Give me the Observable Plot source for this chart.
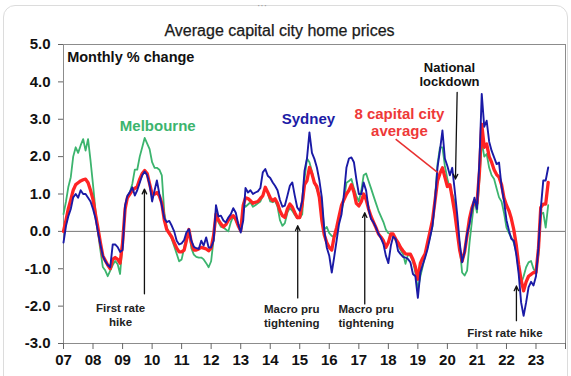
<!DOCTYPE html>
<html>
<head>
<meta charset="utf-8">
<script src="https://cdn.jsdelivr.net/npm/d3@7"></script>
<script src="https://cdn.jsdelivr.net/npm/@observablehq/plot@0.6"></script>
<style>
  html, body { margin: 0; padding: 0; background: #fff; }
  #wrap { position: relative; width: 571px; height: 376px; overflow: hidden; font-family: Arial, "Liberation Sans", sans-serif; }
  #card { position: absolute; left: 3px; top: 5px; width: 565px; height: 420px; border: 1px solid #dcdcdc; border-radius: 12px; box-sizing: border-box; }
  #dots { position: absolute; left: 257px; top: 0px; font-size: 10px; color: #999; letter-spacing: 0px; }
  #chart { position: absolute; left: 0; top: 0; }
</style>
</head>
<body>
<div id="wrap">
  <div id="card"></div>
  <div id="dots">···</div>
  <div id="chart"></div>
</div>
<script>
// ---- Data (monthly % change, Jan 2007 onward) ----
const startYear = 2007;

const melbourne = [
  0.46, 0.8, 1.18, 1.45, 2.0, 2.25, 2.1, 2.3, 2.47, 2.16, 2.47, 1.9,
  1.25, 0.55, 0.0, -0.5, -0.95, -1.05, -1.2, -1.05, -0.9, -0.79, -0.88, -1.14,
  -0.3, 0.64, 0.9, 1.05, 1.27, 1.65, 1.65, 2.0, 2.25, 2.5, 2.35, 2.2,
  1.85, 1.7, 1.7, 1.65, 1.5, 0.5, 0.1, -0.05, -0.2, -0.4, -0.6, -0.8,
  -0.75, -0.45, -0.1, 0.05, -0.45, -0.62, -0.68, -0.7, -0.7, -0.75, -0.85, -0.96,
  -0.8, -0.2, 0.42, 0.24, 0.12, 0.11, 0.05, 0.0, 0.25, 0.4, 0.3, 0.15,
  0.02, 0.75, 0.66, 0.72, 0.78, 0.66, 0.7, 0.75, 0.8, 0.95, 1.18, 1.02,
  0.8, 0.78, 0.82, 0.66, 0.3, 0.15, 0.22, 0.5, 0.63, 0.55, 0.44, 0.35,
  0.36, 0.46, 1.4, 1.95, 1.85, 1.6, 1.3, 1.12, 0.95, 0.75, 0.05, 0.12,
  -0.05, -0.12, -0.15, -0.07, 0.35, 0.55, 0.85, 1.3, 1.35, 1.4, 1.15, 0.95,
  0.8, 1.1, 1.5, 1.55, 1.35, 1.15, 0.95, 0.75, 0.55, 0.4, 0.25, 0.05,
  -0.05, -0.07, -0.1, -0.25, -0.35, -0.5, -0.6, -0.87, -0.62, -0.65, -0.8, -1.1,
  -1.55, -1.2, -0.95, -0.65, -0.4, -0.15, 0.15, 0.9, 1.8, 2.25, 2.25, 1.75,
  1.4, 1.15, 1.0, 0.8, 0.3, -0.4, -1.1, -1.18, -1.05, -0.3, 0.3, 0.85,
  0.5, 1.4, 2.4, 2.0, 2.07, 1.7, 1.5, 1.4, 1.15, 0.91, 0.8, 0.5,
  0.1, -0.05, -0.15, -0.3, -0.55, -0.95, -1.4, -1.2, -0.96, -0.83, -0.79, -1.0,
  -1.1, -0.6, 0.46, 0.5, 0.1, 0.7
];

const sydney = [
  -0.3, 0.15, 0.4, 0.6, 0.91, 1.0, 0.9, 1.1, 1.0, 1.0, 0.9, 0.8,
  0.6, 0.35, 0.0, -0.35, -0.65, -0.8, -0.9, -0.96, -0.35, -0.35, -0.42, -0.55,
  -0.5, 0.7, 0.95, 1.05, 1.18, 0.96, 1.1, 1.3, 1.5, 1.6, 1.5, 1.25,
  0.8, 1.1, 1.36, 1.0, 0.7, 0.35, 0.25, 0.28, 0.15, 0.0, -0.25, -0.35,
  -0.32, -0.23, -0.03, 0.06, -0.25, -0.41, -0.45, -0.47, -0.25, -0.38, -0.16, -0.43,
  -0.43, -0.25, 0.7, 0.4, 0.42, 0.29, 0.24, 0.37, 0.46, 0.62, 0.5, 0.2,
  -0.03, 0.29, 1.16, 1.04, 1.1, 1.0, 1.04, 1.07, 1.16, 1.58, 1.67, 1.49,
  1.43, 1.31, 1.22, 1.1, 0.84, 0.66, 0.69, 0.95, 1.22, 1.31, 0.95, 0.64,
  0.55, 0.82, 1.62, 1.96, 2.65, 2.1, 1.94, 1.71, 1.36, 0.91, 0.02, -0.43,
  -0.65, -1.1, -0.7, -0.25, 0.2, 0.46, 1.0, 1.71, 1.95, 1.98, 1.85, 1.4,
  1.0, 1.0, 1.31, 1.09, 0.6, 0.33, 0.24, 0.1, -0.07, -0.18, -0.34, -0.65,
  -0.85, -0.38, -0.14, -0.2, -0.52, -0.61, -0.68, -0.7, -0.74, -0.83, -1.14, -1.2,
  -1.78, -1.1, -0.9, -0.7, -0.47, -0.16, 0.15, 0.82, 1.71, 2.16, 2.7, 1.95,
  1.75, 1.5, 1.7, 1.1, 0.46, -0.3, -0.83, -0.55, -0.07, 0.2, 0.6, 0.9,
  0.6, 1.9, 3.68, 2.8, 2.96, 2.4, 2.16, 1.98, 1.8, 1.84, 1.2, 0.82,
  0.3, 0.02, -0.2, -0.25, -0.6, -1.14, -1.9, -2.26, -1.9, -1.5, -1.35, -1.45,
  -1.2, -0.4, 0.6, 1.36, 1.36, 1.71
];

const capitalAvg = [
  0.0, 0.3, 0.6, 0.85, 1.1, 1.25, 1.3, 1.35, 1.38, 1.4, 1.3, 1.1,
  0.85, 0.45, 0.1, -0.3, -0.65, -0.78, -0.9, -1.0, -0.75, -0.7, -0.75, -0.85,
  -0.3, 0.6, 0.9, 1.0, 1.1, 1.15, 1.2, 1.4, 1.55, 1.63, 1.55, 1.27,
  1.0, 1.0, 1.04, 0.95, 0.75, 0.3, 0.05, -0.05, -0.15, -0.3, -0.45, -0.55,
  -0.55, -0.5, -0.25, 0.05, -0.3, -0.5, -0.5, -0.47, -0.43, -0.45, -0.47, -0.52,
  -0.45, -0.1, 0.46, 0.3, 0.2, 0.12, 0.18, 0.3, 0.38, 0.42, 0.32, 0.15,
  0.02, 0.7, 0.9, 0.88, 0.82, 0.75, 0.78, 0.8, 0.88, 0.95, 1.18, 1.05,
  0.9, 0.82, 0.87, 0.75, 0.55, 0.42, 0.37, 0.6, 0.73, 0.65, 0.5, 0.37,
  0.37, 0.75, 1.25, 1.36, 1.71, 1.54, 1.3, 1.2, 0.9, 0.3, -0.1, -0.3,
  -0.43, -0.5, -0.15, 0.1, 0.4, 0.7, 0.85, 1.0, 1.1, 1.25, 1.05, 0.75,
  0.68, 0.8, 1.0, 0.85, 0.6, 0.4, 0.25, 0.1, -0.07, -0.15, -0.25, -0.43,
  -0.3, -0.07, -0.07, -0.2, -0.3, -0.43, -0.52, -0.6, -0.61, -0.61, -0.75, -0.95,
  -1.28, -0.85, -0.72, -0.6, -0.3, 0.0, 0.3, 0.82, 1.35, 1.55, 1.7, 1.45,
  1.2, 1.25, 0.9, 0.5, 0.0, -0.5, -0.8, -0.55, -0.1, 0.35, 0.64, 0.82,
  0.75, 1.6, 2.87, 2.25, 2.34, 2.0, 1.85, 1.65, 1.52, 1.45, 1.25, 0.9,
  0.7, 0.55, 0.35, 0.05, -0.35, -0.9, -1.3, -1.59, -1.35, -1.2, -1.15, -1.1,
  -1.1, -0.45, 0.64, 0.73, 0.73, 1.31
];

const yearLabels = ["07","08","09","10","11","12","13","14","15","16","17","18","19","20","21","22","23"];
const yTicks = [-3, -2, -1, 0, 1, 2, 3, 4, 5];

const titleText = "Average capital city home prices";
const unitsText = "Monthly % change";

// Annotation labels
const seriesLabels = [
  {date: "2010-03-12", value: 2.83, text: "Melbourne", color: "#3cb46e"},
  {date: "2015-04-18", value: 3.01, text: "Sydney", color: "#1c1ca6"},
  {date: "2018-05-18", value: 2.92, text: "8 capital city\naverage", color: "#ee3838"}
];
const eventLabels = [
  {date: "2008-12-07", value: -2.22, text: "First rate\nhike", anchor: "start"},
  {date: "2014-09-25", value: -2.26, text: "Macro pru\ntightening", anchor: "middle"},
  {date: "2017-04-03", value: -2.26, text: "Macro pru\ntightening", anchor: "middle"},
  {date: "2021-12-12", value: -2.70, text: "First rate hike", anchor: "middle"}
];
const eventArrows = [
  {d1: "2009-09-28", v1: -1.67, d2: "2009-09-28", v2: 1.13},
  {d1: "2014-12-07", v1: -1.78, d2: "2014-12-07", v2: 0.15},
  {d1: "2017-03-15", v1: -1.94, d2: "2017-03-15", v2: 0.50},
  {d1: "2020-05-01", v1: 3.72, d2: "2020-04-10", v2: 1.40},
  {d1: "2022-05-04", v1: -2.39, d2: "2022-05-04", v2: -1.46}
];
const lockdownLabel = [{date: "2020-01-27", value: 4.2, text: "National\nlockdown"}];
const avgPointer = [{d1: "2018-04-01", v1: 2.47, d2: "2019-09-01", v2: 1.58}];

// ---- Build tables ----
const monthDate = i => new Date(Date.UTC(startYear, i, 1));
const rows = [];
const addSeries = (name, arr) => arr.forEach((v, i) => rows.push({series: name, date: monthDate(i), value: v}));
addSeries("Melbourne", melbourne);
addSeries("Sydney", sydney);
addSeries("8 capital city average", capitalAvg);

const pd = s => new Date(s + "T00:00:00Z");
const xTicks = d3.range(startYear, startYear + yearLabels.length + 1).map(y => new Date(Date.UTC(y, 0, 1)));
const fmtYear = d => yearLabels[d.getUTCFullYear() - startYear] ?? "";

const font = 'Arial, "Liberation Sans", sans-serif';

const chart = Plot.plot({
  width: 571,
  height: 376,
  marginLeft: 63,
  marginRight: 6,
  marginTop: 44,
  marginBottom: 33,
  style: {fontFamily: font, fontSize: "15px", color: "#111", background: "transparent", overflow: "visible"},
  x: {type: "utc", domain: [new Date(Date.UTC(startYear, 0, 1)), new Date(Date.UTC(startYear + yearLabels.length, 0, 1))], axis: null},
  y: {domain: [-3, 5], axis: null},
  marks: [
    Plot.frame({stroke: "#8c8c8c", strokeWidth: 1}),
    Plot.ruleY([0], {stroke: "#777", strokeWidth: 1}),
    Plot.axisY(yTicks, {anchor: "left", tickSize: 5, tickPadding: 8, tickFormat: d => d.toFixed(1), fontSize: 15, fontWeight: "bold", stroke: "#666", label: null}),
    Plot.axisX(xTicks, {anchor: "bottom", tickSize: 6, tickPadding: 5, tickFormat: fmtYear, fontSize: 15, fontWeight: "bold", stroke: "#666", label: null}),
    Plot.line(rows.filter(d => d.series === "Melbourne"), {x: "date", y: "value", stroke: "#3cb46e", strokeWidth: 1.8}),
    Plot.line(rows.filter(d => d.series === "8 capital city average"), {x: "date", y: "value", stroke: "#ff2424", strokeWidth: 3.3}),
    Plot.line(rows.filter(d => d.series === "Sydney"), {x: "date", y: "value", stroke: "#1a1aa6", strokeWidth: 1.9}),
    Plot.text([titleText], {frameAnchor: "top", text: d => d, dx: -35, dy: -14, lineAnchor: "middle", fontSize: 16, fill: "#1a1a1a", stroke: "#1a1a1a", strokeWidth: 0.25}),
    Plot.text([unitsText], {x: () => pd("2007-02-15"), y: () => 4.66, text: d => d, textAnchor: "start", lineAnchor: "middle", fontSize: 14.5, fontWeight: "bold", fill: "#111"}),
    Plot.text(seriesLabels, {x: d => pd(d.date), y: "value", text: "text", fill: "color", fontSize: 15, fontWeight: "bold", lineAnchor: "middle", lineHeight: 1.11}),
    Plot.text(eventLabels, {x: d => pd(d.date), y: "value", text: "text", textAnchor: "anchor", fontSize: 11.5, fontWeight: "bold", fill: "#222", lineAnchor: "middle", lineHeight: 1.2}),
    Plot.text(lockdownLabel, {x: d => pd(d.date), y: "value", text: "text", fontSize: 13, fontWeight: "bold", fill: "#111", lineAnchor: "middle", lineHeight: 1.08}),
    Plot.link(avgPointer, {x1: d => pd(d.d1), y1: "v1", x2: d => pd(d.d2), y2: "v2", stroke: "#e83030", strokeWidth: 1.5}),
    Plot.arrow(eventArrows, {x1: d => pd(d.d1), y1: "v1", x2: d => pd(d.d2), y2: "v2", stroke: "#111", strokeWidth: 1.3, headLength: 6, headAngle: 50})
  ]
});
document.getElementById("chart").appendChild(chart);
</script>
</body>
</html>
